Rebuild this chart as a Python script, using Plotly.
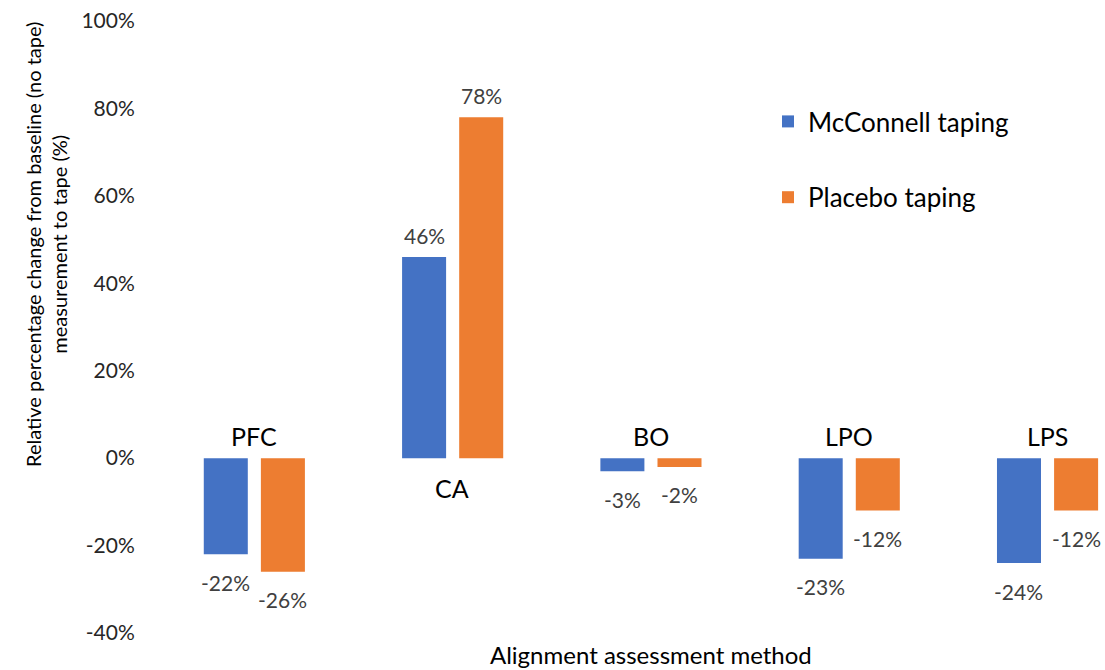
import plotly.graph_objects as go

# Chart data
categories = ["PFC", "CA", "BO", "LPO", "LPS"]
mcconnell = [-22, 46, -3, -23, -24]
placebo = [-26, 78, -2, -12, -12]
series_names = ["McConnell taping", "Placebo taping"]
y_ticks = [-40, -20, 0, 20, 40, 60, 80, 100]
y_tick_labels = [f"{v}%" for v in y_ticks]

BLUE = "#4472C4"
ORANGE = "#ED7D31"
FONT = "Lato"
W, H = 1105, 670
M_L, M_R, M_T, M_B = 155, 0, 21, 37
CAT_PX = 198.3  # horizontal space per category

BAR_W = 0.222
OFFSETS = [-0.254, 0.034]

x = list(range(len(categories)))
fig = go.Figure()
for name, vals, color, off in zip(series_names, [mcconnell, placebo], [BLUE, ORANGE], OFFSETS):
    fig.add_bar(
        x=x, y=vals, name=name, width=BAR_W, offset=off,
        marker=dict(color=color, line=dict(width=0)),
        legendgroup=name, hoverinfo="skip",
    )

annotations = []
# value labels
for vals, off in zip([mcconnell, placebo], OFFSETS):
    for i, v in enumerate(vals):
        annotations.append(dict(
            x=i + off + BAR_W / 2, y=v, xref="x", yref="y",
            text=f"{v}%", showarrow=False,
            yshift=22 if v >= 0 else -28,
            font=dict(family=FONT, size=21, color="#404040"),
        ))
# category labels next to the zero line, on the side away from the bars
for i, c in enumerate(categories):
    up = max(mcconnell[i], placebo[i]) <= 0
    annotations.append(dict(
        x=i, y=0, xref="x", yref="y", text=c, showarrow=False,
        yshift=22 if up else -30,
        font=dict(family=FONT, size=25, color="#000000"),
    ))

plot_w = W - M_L - M_R
plot_h = H - M_T - M_B
# y-axis title
annotations.append(dict(
    x=(46 - M_L) / plot_w, y=(H - M_B - 245) / plot_h, xref="paper", yref="paper",
    text="Relative percentage change from baseline (no tape)<br>measurement to tape (%)",
    textangle=-90, showarrow=False, xanchor="center", yanchor="middle",
    font=dict(family=FONT, size=20, color="#000000"),
))
# x-axis title
annotations.append(dict(
    x=2, y=0, xref="x", yref="paper", yanchor="top", yshift=-5,
    text="Alignment assessment method", showarrow=False,
    font=dict(family=FONT, size=24, color="#000000"),
))

x_max = plot_w / CAT_PX - 0.5
fig.update_layout(
    width=W, height=H,
    margin=dict(l=M_L, r=M_R, t=M_T, b=M_B),
    paper_bgcolor="white", plot_bgcolor="white",
    font=dict(family=FONT, color="#000000"),
    xaxis=dict(range=[-0.5, x_max], showticklabels=False, showgrid=False,
               zeroline=False, showline=False, ticks=""),
    yaxis=dict(range=[-40, 100], tickvals=y_ticks, ticktext=y_tick_labels,
               showgrid=False, zeroline=False, showline=False,
               ticks="outside", ticklen=15, tickcolor="rgba(0,0,0,0)",
               tickfont=dict(family=FONT, size=21, color="#262626")),
    legend=dict(x=(768 - M_L) / plot_w, y=(H - M_B - 98) / plot_h,
                xanchor="left", yanchor="top", tracegroupgap=39,
                font=dict(family=FONT, size=26, color="#000000"),
                bgcolor="rgba(0,0,0,0)"),
    annotations=annotations,
    showlegend=True,
)

fig.write_html("out.html")
